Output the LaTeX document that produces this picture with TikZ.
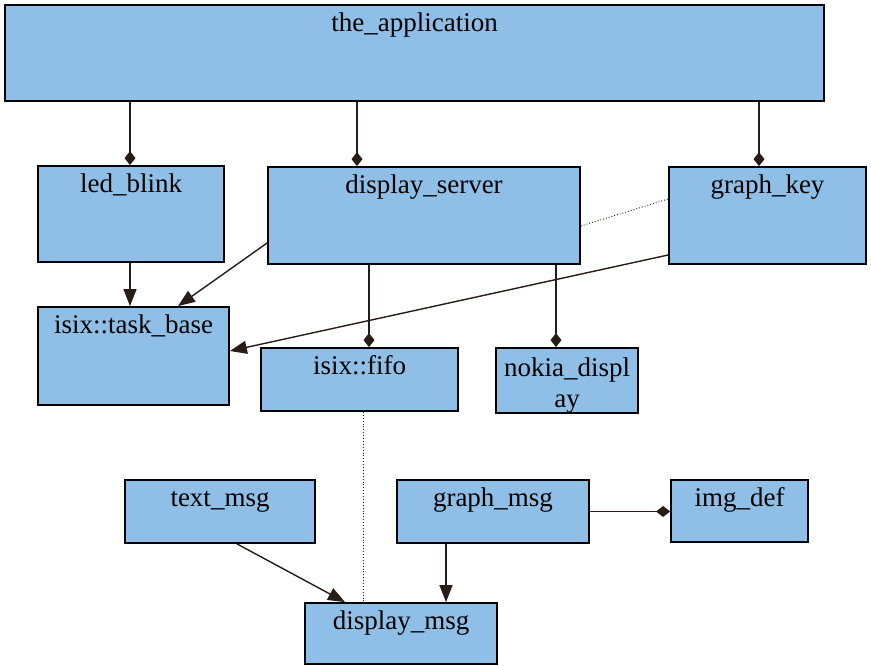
\documentclass[tikz,border=0pt]{standalone}
\usepackage{fontspec}
\setmainfont{Liberation Serif}
\usetikzlibrary{arrows.meta,calc}
\definecolor{boxfill}{RGB}{143,191,230}
\definecolor{linecol}{RGB}{40,28,22}
\tikzset{
  box/.style={draw=black, line width=1.8pt, fill=boxfill, inner sep=0pt, rectangle},
  lbl/.style={anchor=base, yshift=-27pt, inner sep=0pt, font=\fontsize{27}{31}\selectfont},
  conn/.style={draw=linecol, line width=1.4pt},
  agg/.style={conn, -{Diamond[length=14pt,width=11pt]}},
  arr/.style={conn, -{Triangle[length=17pt,width=13pt]}},
  dotline/.style={draw=linecol, line width=0.9pt, dotted}
}
\begin{document}
\begin{tikzpicture}[x=1pt,y=-1pt]
\useasboundingbox[fill=white] (0,0) rectangle (871,666);
% boxes
\node[box, minimum width=819pt, minimum height=96pt, label={[lbl]north:the\_application}] (app) at (414.5,53) {};
\node[box, minimum width=186pt, minimum height=96pt, label={[lbl]north:led\_blink}] (led) at (131,214) {};
\node[box, minimum width=312pt, minimum height=97pt, label={[lbl]north:display\_server}] (ds) at (424,215.5) {};
\node[box, minimum width=197pt, minimum height=97pt, label={[lbl]north:graph\_key}] (gk) at (767.5,215.5) {};
\node[box, minimum width=191pt, minimum height=98pt, label={[lbl]north:isix::task\_base}] (tb) at (133.5,356) {};
\node[box, minimum width=197pt, minimum height=63pt, label={[lbl]north:isix::fifo}] (fifo) at (359.5,379.5) {};
\node[box, minimum width=142pt, minimum height=65pt, label={[anchor=north, yshift=-10.5pt, inner sep=0pt, align=center, font=\fontsize{27}{31}\selectfont]north:nokia\_displ\\ay}] (nokia) at (567,380.5) {};
\node[box, minimum width=190pt, minimum height=63pt, label={[lbl]north:text\_msg}] (tm) at (220,511.5) {};
\node[box, minimum width=192pt, minimum height=63pt, label={[lbl]north:graph\_msg}] (gm) at (493,511.5) {};
\node[box, minimum width=137pt, minimum height=62pt, label={[lbl]north:img\_def}] (img) at (739.5,511) {};
\node[box, minimum width=192pt, minimum height=61pt, label={[lbl]north:display\_msg}] (dm) at (401,633.5) {};
% aggregation connectors
\coordinate (c1) at ([xshift=-1pt]led.north);
\coordinate (c2) at ([xshift=-67pt]ds.north);
\coordinate (c3) at ([xshift=-8.5pt]gk.north);
\draw[agg] (app.south -| c1) -- (c1);
\draw[agg] (app.south -| c2) -- (c2);
\draw[agg] (app.south -| c3) -- (c3);
\coordinate (c4) at ([xshift=9.5pt]fifo.north);
\coordinate (c5) at ([xshift=-11pt]nokia.north);
\draw[agg] (ds.south -| c4) -- (c4);
\draw[agg] (ds.south -| c5) -- (c5);
\draw[agg] (gm.east) -- (gm.east -| img.west);
% inheritance / uses arrows
\draw[arr] ([xshift=-1pt]led.south) -- ([xshift=-3.5pt]tb.north);
\draw[arr] ([yshift=-27.5pt]ds.west) -- ([xshift=44.5pt]tb.north);
\draw[arr] ([yshift=-39.5pt]gk.west) -- ([yshift=5pt]tb.east);
\draw[arr] ([xshift=17pt]tm.south) -- ([xshift=-56pt]dm.north);
\draw[arr] ([xshift=-47pt]gm.south) -- ([xshift=45pt]dm.north);
% dotted dependencies
\draw[dotline] ([yshift=-10.5pt]ds.east) -- ([yshift=16.5pt]gk.west);
\draw[dotline] ([xshift=3.5pt]fifo.south) -- ([xshift=-38pt]dm.north);
\end{tikzpicture}
\end{document}
